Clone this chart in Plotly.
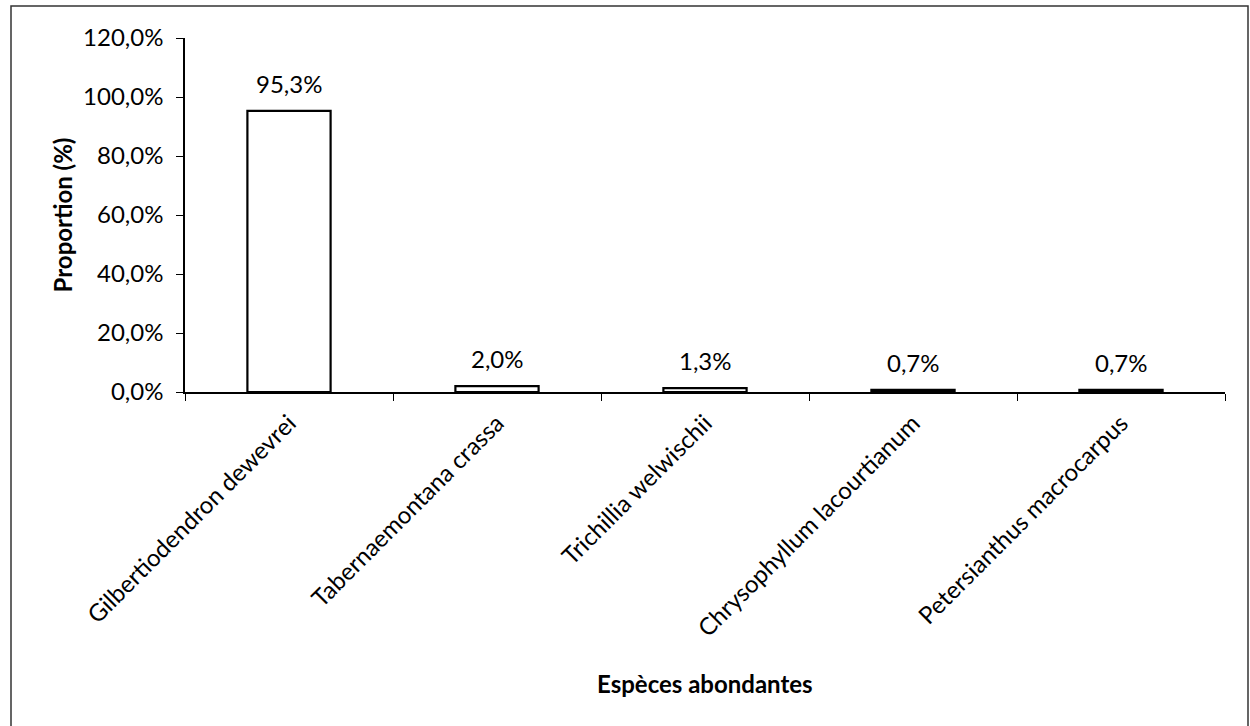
import plotly.graph_objects as go

species = [
    "Gilbertiodendron dewevrei",
    "Tabernaemontana crassa",
    "Trichillia welwischii",
    "Chrysophyllum lacourtianum",
    "Petersianthus macrocarpus",
]
proportion = [95.3, 2.0, 1.3, 0.7, 0.7]
y_ticks = [0, 20, 40, 60, 80, 100, 120]
y_tick_labels = [f"{v:.1f}%".replace(".", ",") for v in y_ticks]

FONT = "Lato, 'Open Sans', sans-serif"
FS = 24
W, H = 1250, 726
L, R, T, B = 185, 25, 38, 334
pw, ph = W - L - R, H - T - B

def px_x(p):
    return (p - L) / pw

def px_y(p):
    return (H - B - p) / ph

fig = go.Figure(
    go.Bar(
        x=species,
        y=proportion,
        marker=dict(color="white", line=dict(color="black", width=2.2)),
        width=0.4,
        hoverinfo="skip",
    )
)

# value labels above the bars
for s, v in zip(species, proportion):
    fig.add_annotation(
        x=s, y=v, text=f"{v:.1f}%".replace(".", ","),
        showarrow=False, yanchor="bottom", yshift=11,
        font=dict(family=FONT, size=FS, color="black"),
    )

# chart area frame
fig.add_shape(
    type="rect", xref="paper", yref="paper",
    x0=px_x(11), x1=px_x(1248), y0=px_y(745), y1=px_y(6),
    line=dict(color="#333333", width=1.5), layer="below",
)

# x-axis title
fig.add_annotation(
    xref="paper", yref="paper", x=0.5, y=px_y(683),
    text="<b>Espèces abondantes</b>", showarrow=False,
    xanchor="center", yanchor="middle",
    font=dict(family=FONT, size=FS, color="black"),
)

fig.update_layout(
    width=W, height=H,
    margin=dict(l=L, r=R, t=T, b=B),
    paper_bgcolor="white", plot_bgcolor="white",
    showlegend=False,
    font=dict(family=FONT, size=FS, color="black"),
    xaxis=dict(
        showline=True, linecolor="black", linewidth=1.5,
        ticks="outside", tickson="boundaries", ticklen=7, tickcolor="black",
        tickangle=-45, tickfont=dict(size=FS),
        ticklabelstandoff=6,
    ),
    yaxis=dict(
        range=[0, 120], tickvals=y_ticks, ticktext=y_tick_labels,
        showline=True, linecolor="black", linewidth=1.5,
        ticks="outside", ticklen=7, tickcolor="black",
        showgrid=False, zeroline=False,
        ticklabelstandoff=8,
        tickfont=dict(size=FS),
        title=dict(text="<b>Proportion (%)</b>", font=dict(size=FS), standoff=4),
    ),
)

fig.write_html("out.html")
